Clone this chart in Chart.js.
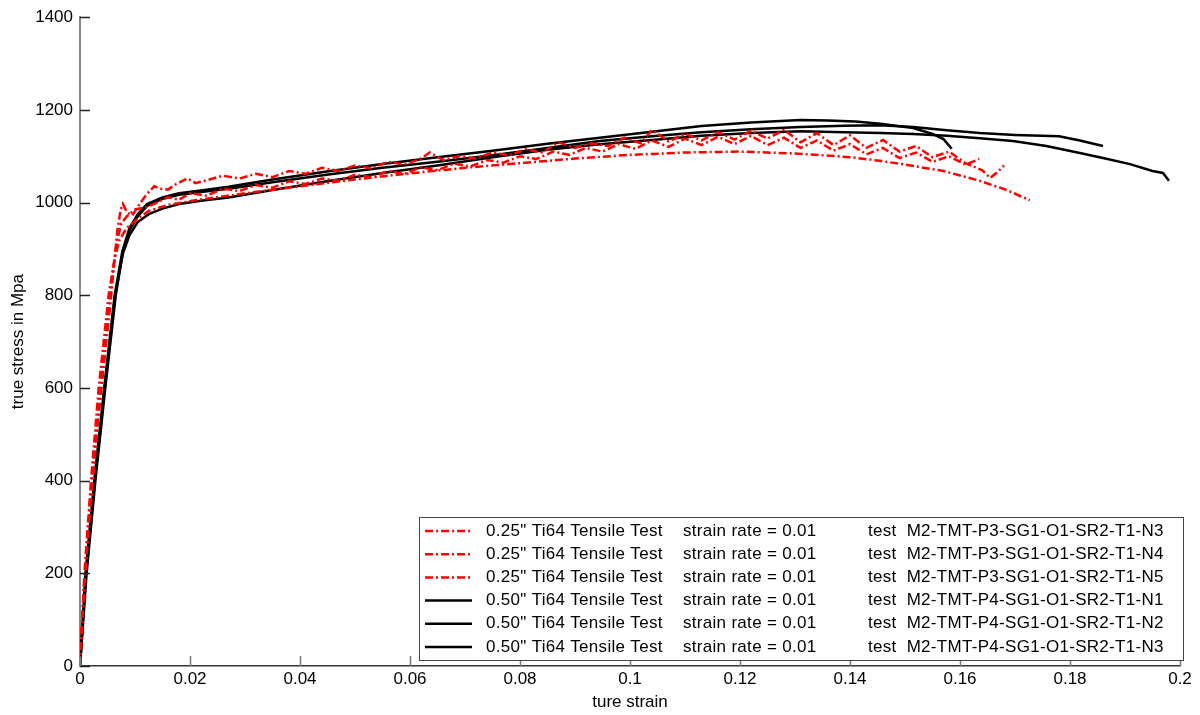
<!DOCTYPE html>
<html>
<head>
<meta charset="utf-8">
<title>Ti64 tensile tests</title>
<script src="https://cdn.jsdelivr.net/npm/chart.js@4.4.1/dist/chart.umd.min.js"></script>
<style>
  html, body { margin: 0; padding: 0; background: #fff; }
  #wrap { position: relative; width: 1200px; height: 715px; }
</style>
</head>
<body>
<div id="wrap"><canvas id="stressChart"></canvas></div>
<script>
// axis ticks
const xTicks = [0, 0.02, 0.04, 0.06, 0.08, 0.1, 0.12, 0.14, 0.16, 0.18, 0.2];
const yTicks = [0, 200, 400, 600, 800, 1000, 1200, 1400];

// 0.25" specimens (red, dash-dot)
const strainP3N3 = [0, 0.0008, 0.002, 0.0034, 0.0052, 0.0063, 0.0072, 0.0085, 0.0105, 0.0125, 0.016, 0.021, 0.03, 0.04, 0.05, 0.06, 0.07, 0.08, 0.09, 0.1, 0.11, 0.12, 0.13, 0.14, 0.1455, 0.151, 0.157, 0.1636, 0.1685, 0.1727];
const stressP3N3 = [0, 200, 400, 600, 800, 880, 920, 945, 965, 982, 995, 1005, 1020, 1035, 1050, 1063, 1075, 1085, 1095, 1103, 1108, 1110, 1106, 1098, 1090, 1080, 1068, 1047, 1027, 1005];

const strainP3N4 = [0, 0.0005, 0.001, 0.0018, 0.0025, 0.0032, 0.004, 0.0048, 0.0056, 0.0062, 0.0068, 0.0074, 0.0078, 0.0085, 0.0095, 0.011, 0.0122, 0.0135, 0.0145, 0.016, 0.0175, 0.0195, 0.021, 0.023, 0.026, 0.029, 0.032, 0.035, 0.038, 0.041, 0.044, 0.047, 0.05, 0.053, 0.056, 0.059, 0.062, 0.0636, 0.066, 0.069, 0.072, 0.075, 0.078, 0.081, 0.084, 0.087, 0.09, 0.093, 0.096, 0.099, 0.102, 0.104, 0.107, 0.11, 0.113, 0.116, 0.119, 0.122, 0.125, 0.128, 0.131, 0.134, 0.137, 0.14, 0.143, 0.146, 0.149, 0.152, 0.155, 0.158, 0.161, 0.164, 0.1655, 0.167, 0.168];
const stressP3N4 = [0, 120, 210, 330, 420, 520, 610, 700, 790, 870, 940, 985, 997, 980, 972, 1000, 1019, 1035, 1030, 1028, 1040, 1052, 1042, 1048, 1058, 1052, 1062, 1055, 1068, 1062, 1075, 1068, 1080, 1074, 1088, 1082, 1095, 1108, 1092, 1100, 1095, 1108, 1102, 1115, 1108, 1130, 1118, 1128, 1122, 1140, 1128, 1157, 1132, 1148, 1134, 1152, 1136, 1155, 1138, 1157, 1130, 1150, 1124, 1145, 1118, 1135, 1110, 1122, 1098, 1110, 1085, 1070, 1053, 1068, 1080];

const strainP3N5 = [0, 0.0006, 0.0014, 0.0022, 0.003, 0.0038, 0.0046, 0.0054, 0.006, 0.0067, 0.0075, 0.0085, 0.01, 0.012, 0.014, 0.016, 0.018, 0.02, 0.023, 0.026, 0.029, 0.032, 0.035, 0.038, 0.041, 0.044, 0.047, 0.05, 0.053, 0.056, 0.059, 0.062, 0.065, 0.068, 0.071, 0.074, 0.077, 0.08, 0.083, 0.086, 0.089, 0.092, 0.095, 0.098, 0.101, 0.104, 0.107, 0.11, 0.113, 0.116, 0.119, 0.122, 0.125, 0.128, 0.131, 0.134, 0.137, 0.14, 0.143, 0.146, 0.149, 0.152, 0.155, 0.158, 0.161, 0.1635];
const stressP3N5 = [0, 150, 280, 400, 500, 600, 700, 790, 850, 915, 955, 970, 985, 990, 1000, 1012, 1006, 1020, 1015, 1030, 1025, 1038, 1032, 1046, 1040, 1052, 1047, 1060, 1055, 1068, 1062, 1076, 1070, 1084, 1078, 1092, 1086, 1100, 1094, 1110, 1103, 1118, 1110, 1126, 1116, 1134, 1120, 1138, 1124, 1142, 1126, 1144, 1124, 1140, 1118, 1134, 1112, 1126, 1104, 1118, 1096, 1108, 1088, 1100, 1082, 1094];

// 0.50" specimens (black, solid)
const strainP4N1 = [0, 0.0011, 0.0027, 0.0045, 0.0064, 0.0078, 0.009, 0.0105, 0.0125, 0.015, 0.018, 0.022, 0.027, 0.035, 0.0455, 0.055, 0.065, 0.075, 0.085, 0.0945, 0.104, 0.113, 0.122, 0.131, 0.139, 0.1455, 0.1515, 0.1576, 0.1636, 0.1696, 0.1757, 0.1818, 0.1864, 0.1909, 0.195, 0.1969, 0.198];
const stressP4N1 = [0, 200, 400, 600, 800, 890, 930, 958, 975, 987, 997, 1004, 1011, 1027, 1047, 1064, 1080, 1098, 1114, 1126, 1135, 1144, 1150, 1154, 1152, 1150, 1148, 1144, 1139, 1133, 1122, 1107, 1095, 1083, 1068, 1064, 1047];

const strainP4N2 = [0, 0.0012, 0.0028, 0.0046, 0.0065, 0.0078, 0.009, 0.0105, 0.0122, 0.015, 0.018, 0.022, 0.027, 0.035, 0.0455, 0.055, 0.065, 0.075, 0.085, 0.0945, 0.104, 0.113, 0.122, 0.131, 0.139, 0.1455, 0.1515, 0.1576, 0.1636, 0.17, 0.178, 0.1818, 0.186];
const stressP4N2 = [0, 200, 400, 600, 800, 895, 940, 970, 993, 1008, 1017, 1023, 1030, 1044, 1061, 1075, 1088, 1102, 1118, 1133, 1143, 1152, 1158, 1163, 1166, 1167, 1163, 1156, 1150, 1146, 1143, 1134, 1122];

const strainP4N3 = [0, 0.001, 0.0026, 0.0044, 0.0063, 0.0077, 0.009, 0.0105, 0.0122, 0.015, 0.018, 0.022, 0.027, 0.035, 0.0455, 0.055, 0.065, 0.075, 0.085, 0.0945, 0.104, 0.113, 0.122, 0.131, 0.136, 0.141, 0.1455, 0.1515, 0.155, 0.157, 0.1585];
const stressP4N3 = [0, 200, 400, 600, 800, 895, 945, 975, 997, 1011, 1020, 1026, 1034, 1050, 1068, 1083, 1098, 1112, 1127, 1140, 1153, 1165, 1173, 1178, 1177, 1175, 1170, 1161, 1148, 1137, 1116];

// legend columns
const specimenLabels = ['0.25" Ti64 Tensile Test', '0.25" Ti64 Tensile Test', '0.25" Ti64 Tensile Test',
                        '0.50" Ti64 Tensile Test', '0.50" Ti64 Tensile Test', '0.50" Ti64 Tensile Test'];
const rateLabels = ['strain rate = 0.01', 'strain rate = 0.01', 'strain rate = 0.01',
                    'strain rate = 0.01', 'strain rate = 0.01', 'strain rate = 0.01'];
const testLabels = ['test  M2-TMT-P3-SG1-O1-SR2-T1-N3', 'test  M2-TMT-P3-SG1-O1-SR2-T1-N4', 'test  M2-TMT-P3-SG1-O1-SR2-T1-N5',
                    'test  M2-TMT-P4-SG1-O1-SR2-T1-N1', 'test  M2-TMT-P4-SG1-O1-SR2-T1-N2', 'test  M2-TMT-P4-SG1-O1-SR2-T1-N3'];

const FONT = 'Liberation Sans, Arial, sans-serif';
const RED = '#ff0000';
const BLACK = '#000000';
const DASH_DOT = [8, 3, 2, 3];

function toPoints(xs, ys) {
    return xs.map((x, i) => ({ x: x, y: ys[i] }));
}

function curve(xs, ys, color, dash) {
    return {
        data: toPoints(xs, ys),
        borderColor: color,
        borderWidth: 2.5,
        borderDash: dash,
        pointRadius: 0,
        tension: 0,
        fill: false
    };
}

const datasets = [
    curve(strainP3N3, stressP3N3, RED, DASH_DOT),
    curve(strainP3N4, stressP3N4, RED, DASH_DOT),
    curve(strainP3N5, stressP3N5, RED, DASH_DOT),
    curve(strainP4N1, stressP4N1, BLACK, []),
    curve(strainP4N2, stressP4N2, BLACK, []),
    curve(strainP4N3, stressP4N3, BLACK, [])
];

// inward tick marks + boxed legend in the lower right
const frame = {
    id: 'frame',
    afterDraw(chart) {
        const ctx = chart.ctx;
        const area = chart.chartArea;
        const xs = chart.scales.x;
        const ys = chart.scales.y;
        ctx.save();

        ctx.lineWidth = 1.5;
        ctx.strokeStyle = '#222';
        yTicks.forEach(v => {
            const py = Math.round(ys.getPixelForValue(v)) + 0.5;
            ctx.beginPath();
            ctx.moveTo(area.left, py);
            ctx.lineTo(area.left + 10, py);
            ctx.stroke();
        });
        ctx.strokeStyle = '#777';
        xTicks.forEach(v => {
            const px = Math.round(xs.getPixelForValue(v)) + 0.5;
            ctx.beginPath();
            ctx.moveTo(px, area.bottom);
            ctx.lineTo(px, area.bottom - 10);
            ctx.stroke();
        });

        // legend box
        const box = { left: 419, top: 517, right: 1183, bottom: 660 };
        ctx.fillStyle = '#fff';
        ctx.fillRect(box.left, box.top, box.right - box.left, box.bottom - box.top);
        ctx.lineWidth = 1;
        ctx.strokeStyle = '#444';
        ctx.setLineDash([]);
        ctx.strokeRect(box.left + 0.5, box.top + 0.5, box.right - box.left, box.bottom - box.top);

        ctx.font = '17px ' + FONT;
        ctx.letterSpacing = '0.3px';
        ctx.textBaseline = 'middle';
        ctx.fillStyle = '#000';
        const rowGap = 23.2;
        datasets.forEach((ds, i) => {
            const cy = box.top + 14 + i * rowGap;
            ctx.strokeStyle = ds.borderColor;
            ctx.lineWidth = 2.5;
            ctx.setLineDash(ds.borderDash);
            ctx.beginPath();
            ctx.moveTo(425, cy);
            ctx.lineTo(472, cy);
            ctx.stroke();
            ctx.setLineDash([]);
            ctx.textAlign = 'left';
            ctx.fillText(specimenLabels[i], 486, cy);
            ctx.fillText(rateLabels[i], 683, cy);
            ctx.fillText(testLabels[i], 868, cy);
        });
        ctx.restore();
    }
};

new Chart(document.getElementById('stressChart'), {
    type: 'line',
    data: { datasets: datasets },
    plugins: [frame],
    options: {
        responsive: true,
        maintainAspectRatio: false,
        animation: false,
        layout: { padding: { top: 16, right: 20, left: 0, bottom: 0 } },
        plugins: {
            legend: { display: false },
            tooltip: { enabled: false }
        },
        scales: {
            x: {
                type: 'linear',
                min: 0,
                max: 0.2,
                afterFit: s => { s.height = 49; },
                afterBuildTicks: s => { s.ticks = xTicks.map(v => ({ value: v })); },
                grid: { display: false, drawTicks: false },
                border: { display: true, color: '#333', width: 1.5 },
                ticks: {
                    color: '#000',
                    padding: 3,
                    font: { family: FONT, size: 17 },
                    maxRotation: 0,
                    callback: v => String(parseFloat(v.toFixed(2)))
                },
                title: {
                    display: true,
                    text: 'ture strain',
                    color: '#000',
                    font: { family: FONT, size: 17 },
                    padding: { top: 0, bottom: 2 }
                }
            },
            y: {
                type: 'linear',
                min: 0,
                max: 1400,
                afterFit: s => { s.width = 80; },
                afterBuildTicks: s => { s.ticks = yTicks.map(v => ({ value: v })); },
                grid: { display: false, drawTicks: false },
                border: { display: true, color: '#888', width: 2 },
                ticks: {
                    color: '#000',
                    padding: 7,
                    font: { family: FONT, size: 17 },
                    callback: v => String(v)
                },
                title: {
                    display: true,
                    text: 'true stress in Mpa',
                    color: '#000',
                    font: { family: FONT, size: 17 },
                    padding: { top: 8, bottom: 0 }
                }
            }
        }
    }
});
</script>
</body>
</html>
